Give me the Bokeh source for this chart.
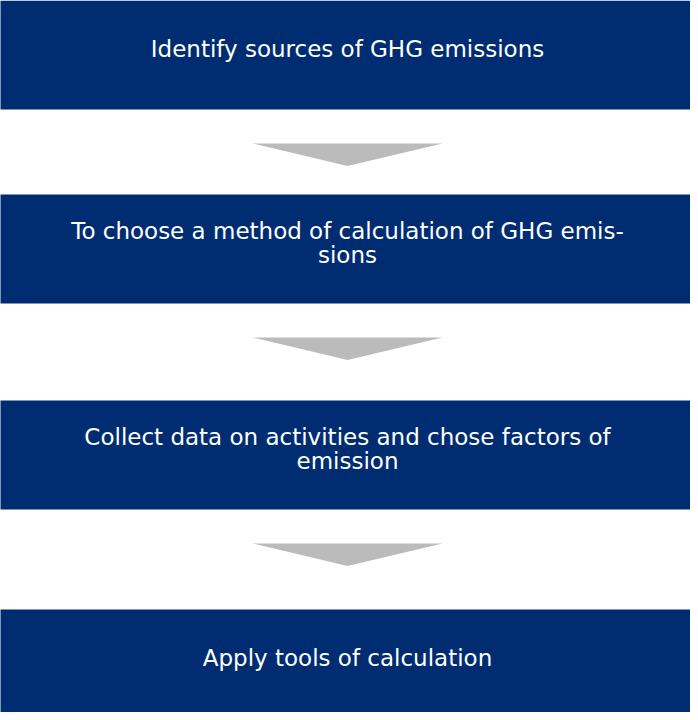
from bokeh.plotting import figure
from bokeh.models import Range1d, ColumnDataSource
from bokeh.core.properties import value
from bokeh.embed import file_html
from bokeh.resources import INLINE

# data: the steps of the flowchart
steps = [
    "Identify sources of GHG emissions",
    "To choose a method of calculation of GHG emis-\nsions",
    "Collect data on activities and chose factors of\nemission",
    "Apply tools of calculation",
]

# layout (page pixel coordinates)
box_tops = [8, 202, 408, 617]
box_h = 109
box_left, box_right = 5, 700
arrow_gap, arrow_h = 34, 22.5
arrow_l, arrow_r = 260, 450

W, H = 690, 712
p = figure(width=W, height=H, output_backend="svg", toolbar_location=None,
           x_range=Range1d(8, 698), y_range=Range1d(720, 8),
           min_border=0, min_border_left=0, min_border_right=0,
           min_border_top=0, min_border_bottom=0)
p.axis.visible = False
p.grid.visible = False
p.outline_line_color = None
p.background_fill_color = "white"
p.border_fill_color = "white"

n = len(steps)
boxes = ColumnDataSource(dict(
    left=[box_left] * n, right=[box_right] * n,
    top=box_tops, bottom=[t + box_h for t in box_tops],
    x=[(arrow_l + arrow_r) / 2] * n,
    y=[t + box_h / 2 - 6 for t in box_tops],
    label=steps,
))
p.quad(left="left", right="right", top="top", bottom="bottom", source=boxes,
       fill_color="#002D72", line_color=None)

axs, ays = [], []
for t in box_tops[:-1]:
    y0 = t + box_h + arrow_gap
    axs.append([arrow_l, arrow_r, (arrow_l + arrow_r) / 2])
    ays.append([y0, y0, y0 + arrow_h])
p.patches(axs, ays, fill_color="#BBBBBB", line_color=None)

p.text(x="x", y="y", text="label", source=boxes, text_color="white",
       text_font=value("DejaVu Sans"), text_font_size="23px",
       text_align="center", text_baseline="middle", text_line_height=0.95)

open("out.html", "w").write(file_html(p, INLINE))
